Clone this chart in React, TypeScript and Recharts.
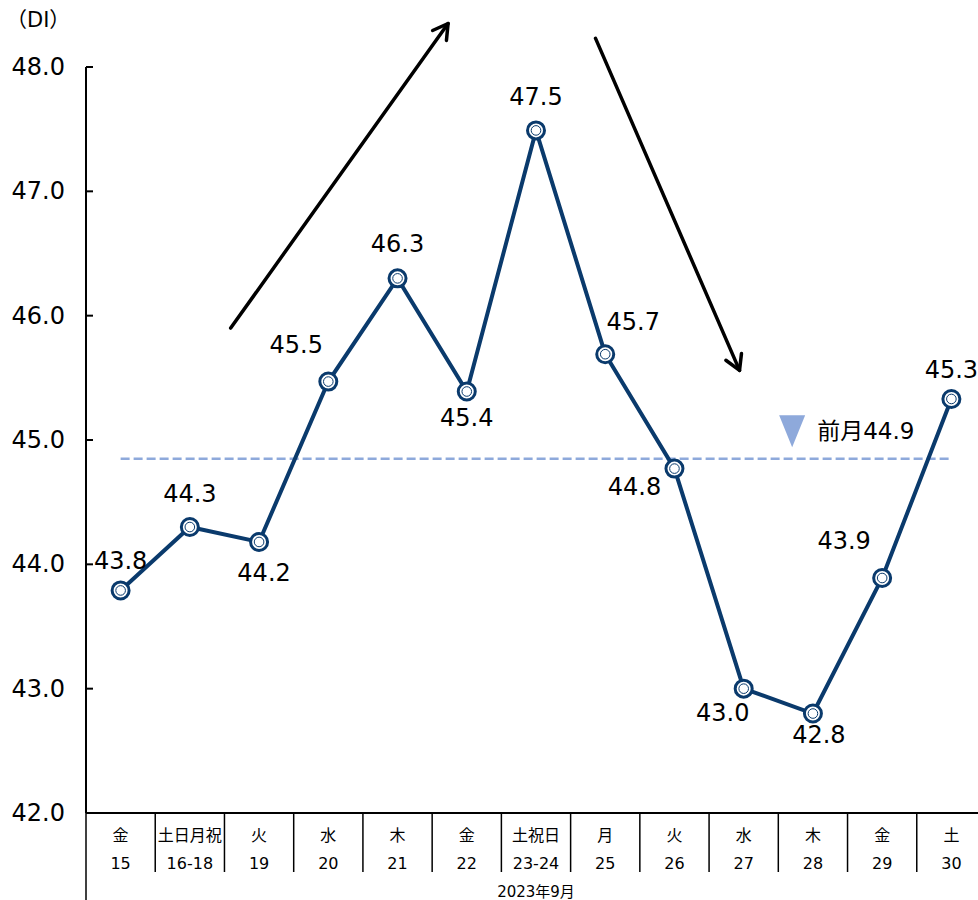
import React from "react";
import { LineChart, Line, XAxis, YAxis, ReferenceLine, ReferenceDot, LabelList } from "recharts";

const days = ["金", "土日月祝", "火", "水", "木", "金", "土祝日", "月", "火", "水", "木", "金", "土"];
const dates = ["15", "16-18", "19", "20", "21", "22", "23-24", "25", "26", "27", "28", "29", "30"];
const diValues = [43.79, 44.3, 44.18, 45.47, 46.3, 45.39, 47.49, 45.69, 44.77, 43.0, 42.8, 43.89, 45.33];
const prevMonth = 44.85;
const prevMonthText = "前月44.9";
const yTicks = [42, 43, 44, 45, 46, 47, 48];
const monthLabel = "2023年9月";

// arrows drawn in data units (category index, DI)
const arrowUp = [{ x: 1.59, y: 45.9 }, { x: 4.73, y: 48.35 }];
const arrowDown = [{ x: 6.86, y: 48.23 }, { x: 8.94, y: 45.56 }];

// label offsets relative to each point (dx, dy)
const labelOffsets: [number, number][] = [
  [0, -29], [0, -33], [5, 31], [-32, -37], [0, -34], [0, 26], [0, -33],
  [28, -32], [-40, 18], [-21, 24], [6, 21], [-38, -37], [0, -29],
];

const data = diValues.map((v, i) => ({ i, di: v }));

const NAVY = "#0A3A6C";
const FONT = "'DejaVu Sans', 'Noto Sans CJK JP', sans-serif";
const PLOT_W = 900;
const BAND = PLOT_W / days.length;

const Dot = (p: any) => {
  const { cx, cy } = p;
  if (cx == null || cy == null) return null;
  return (
    <g>
      <circle cx={cx} cy={cy} r={8.5} fill="#fff" stroke={NAVY} strokeWidth={3} />
      <circle cx={cx} cy={cy} r={4.8} fill="#fff" stroke={NAVY} strokeWidth={1} />
    </g>
  );
};

const PointLabel = (p: any) => {
  const { x, y, value, index } = p;
  const [dx, dy] = labelOffsets[index] || [0, -30];
  return (
    <text x={x + dx} y={y + dy} textAnchor="middle" dominantBaseline="central" fontSize={24} fontFamily={FONT} fill="#000">
      {Number(value).toFixed(1)}
    </text>
  );
};

const XTick = (p: any) => {
  const { x, y, payload } = p;
  const i = payload.value;
  return (
    <g>
      {i === 0 && <line x1={x - BAND / 2} x2={x - BAND / 2} y1={y} y2={y + 87} stroke="#000" strokeWidth={1.5} />}
      <line x1={x + BAND / 2} x2={x + BAND / 2} y1={y} y2={y + 59} stroke="#000" strokeWidth={1.5} />
      <text x={x} y={y + 22} textAnchor="middle" dominantBaseline="central" fontSize={16} fontFamily={FONT} fill="#000">
        {days[i]}
      </text>
      <text x={x} y={y + 50} textAnchor="middle" dominantBaseline="central" fontSize={16} fontFamily={FONT} fill="#000">
        {dates[i]}
      </text>
    </g>
  );
};

const YTick = (p: any) => {
  const { x, y, payload } = p;
  return (
    <g>
      <line x1={x} x2={x + 7} y1={y} y2={y} stroke="#000" strokeWidth={2} />
      <text x={x - 21} y={y} textAnchor="end" dominantBaseline="central" fontSize={24} fontFamily={FONT} fill="#000">
        {Number(payload.value).toFixed(1)}
      </text>
    </g>
  );
};

const Arrow = (p: any) => {
  const { x1, y1, x2, y2 } = p;
  const a = Math.atan2(y2 - y1, x2 - x1);
  const len = 17;
  const spread = Math.PI / 6;
  const ax = x2 - len * Math.cos(a - spread);
  const ay = y2 - len * Math.sin(a - spread);
  const bx = x2 - len * Math.cos(a + spread);
  const by = y2 - len * Math.sin(a + spread);
  return (
    <g stroke="#000" strokeWidth={3.5} fill="none" strokeLinecap="round" strokeLinejoin="round">
      <line x1={x1} y1={y1} x2={x2} y2={y2} />
      <polyline points={`${ax},${ay} ${x2},${y2} ${bx},${by}`} />
    </g>
  );
};

const PrevMark = (p: any) => {
  const { cx, cy } = p;
  return (
    <g>
      <polygon points={`${cx - 13},${cy - 16} ${cx + 13},${cy - 16} ${cx},${cy + 16}`} fill="#8EA9DB" />
      <text x={cx + 25} y={cy} dominantBaseline="central" fontSize={23} fontFamily={FONT} fill="#000">
        {prevMonthText}
      </text>
    </g>
  );
};

export default function App() {
  return (
    <div style={{ position: "absolute", left: 0, top: 0, width: 978, height: 900, overflow: "hidden", background: "#fff" }}>
      <div style={{ position: "absolute", left: 6, top: 8, fontSize: 21, lineHeight: "24px", fontFamily: FONT, color: "#000" }}>
        （DI）
      </div>
      <LineChart width={986} height={900} data={data} margin={{ top: 67, right: 0, left: 0, bottom: 0 }}>
        <XAxis
          dataKey="i"
          type="number"
          domain={[-0.5, 12.5]}
          ticks={data.map((d) => d.i)}
          interval={0}
          height={87}
          tickLine={false}
          tickSize={0}
          tickMargin={0}
          axisLine={{ stroke: "#000", strokeWidth: 2 }}
          tick={<XTick />}
          label={{ value: monthLabel, position: "insideBottom", offset: 3, fontSize: 15, fill: "#000", fontFamily: FONT }}
        />
        <YAxis
          type="number"
          domain={[42, 48]}
          ticks={yTicks}
          interval={0}
          width={86}
          tickLine={false}
          tickSize={0}
          tickMargin={0}
          axisLine={{ stroke: "#000", strokeWidth: 2 }}
          tick={<YTick />}
        />
        <ReferenceLine
          segment={[{ x: 0, y: prevMonth }, { x: 12, y: prevMonth }]}
          stroke="#8EA9DB"
          strokeWidth={2.5}
          strokeDasharray="9 4"
        />
        <ReferenceDot x={9.7} y={45.07} ifOverflow="visible" shape={<PrevMark />} />
        <ReferenceLine segment={arrowUp} ifOverflow="visible" shape={Arrow} />
        <ReferenceLine segment={arrowDown} ifOverflow="visible" shape={Arrow} />
        <Line
          dataKey="di"
          stroke={NAVY}
          strokeWidth={4}
          dot={<Dot />}
          activeDot={false}
          isAnimationActive={false}
        >
          <LabelList dataKey="di" content={<PointLabel />} />
        </Line>
      </LineChart>
    </div>
  );
}
